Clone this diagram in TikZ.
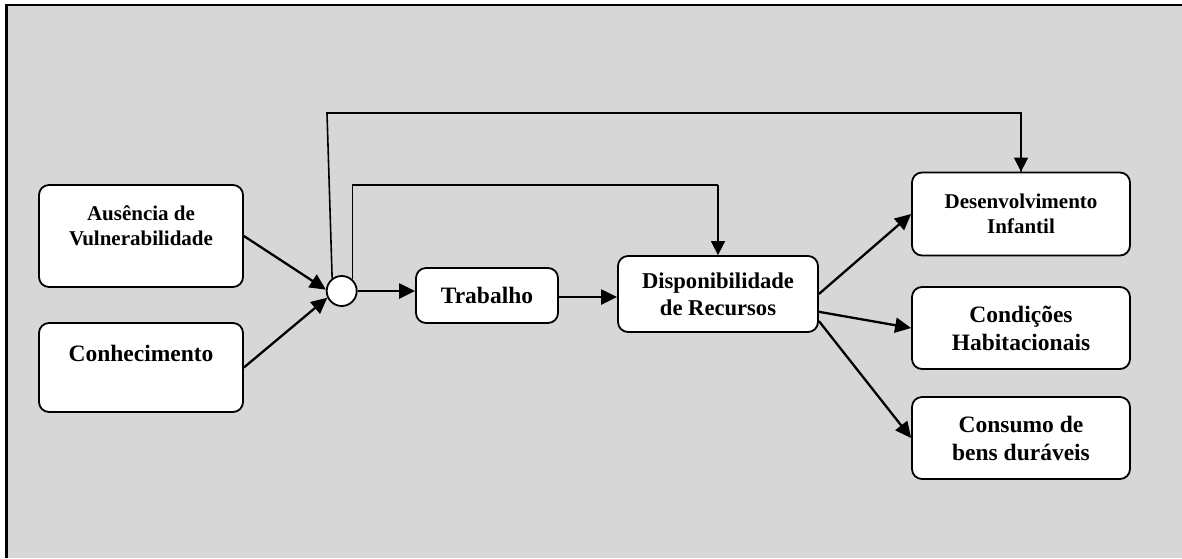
\documentclass[tikz,border=0pt]{standalone}
\usepackage{fontspec}
\setmainfont{Liberation Serif}
\usetikzlibrary{arrows.meta}
\definecolor{bggray}{RGB}{215,215,215}
\tikzset{
  box/.style={draw=black, fill=white, rounded corners=10pt, line width=1.8pt, inner sep=0pt, align=center, font=\bfseries},
  fsA/.style={font=\bfseries\fontsize{21}{25}\selectfont},
  fsB/.style={font=\bfseries\fontsize{23.5}{28}\selectfont},
  fsC/.style={font=\bfseries\fontsize{22.6}{27}\selectfont},
  arr/.style={line width=2.3pt, -{Triangle[length=16pt,width=15pt]}},
  fb/.style={line width=1.6pt},
  fbarr/.style={line width=1.6pt, -{Triangle[length=14pt,width=14pt]}}
}
\begin{document}
\begin{tikzpicture}[x=1pt,y=-1pt]
\useasboundingbox (0,0) rectangle (1182,558);
\fill[white] (0,0) rectangle (1182,558);
\fill[bggray] (6.5,5) rectangle (1182,558);
\draw[line width=2.4pt] (6.5,558) -- (6.5,5) -- (1182,5);

% nodes
\node[box, minimum width=204pt, minimum height=102pt] (aus) at (141,236) {};
\node[fsA, align=center, inner sep=0pt] (austxt) at (141,226) {Ausência de\\Vulnerabilidade};
\node[box, minimum width=204pt, minimum height=89pt] (con) at (141,367.5) {};
\node[fsB, inner sep=0pt] (context) at (141,353) {Conhecimento};
\node[draw=black, fill=white, circle, line width=1.8pt, minimum size=30pt, inner sep=0pt] (c) at (341.7,291) {};
\node[box, fsB, minimum width=142pt, minimum height=55pt] (trab) at (487,295.5) {Trabalho};
\node[box, fsC, minimum width=200pt, minimum height=76pt] (disp) at (718,294) {Disponibilidade\\de Recursos};
\node[box, fsA, minimum width=218pt, minimum height=83pt] (des) at (1021,214) {Desenvolvimento\\Infantil};
\node[box, fsB, minimum width=218pt, minimum height=82pt] (cond) at (1021,328) {Condições\\Habitacionais};
\node[box, fsB, minimum width=218pt, minimum height=82pt] (cons) at (1021,438) {Consumo de\\bens duráveis};

% feedback paths
\coordinate (k1) at (718,185);
\coordinate (k2) at (327,113);
\draw[fb] (c.48) |- (k1);
\draw[fbarr] (k1) -- (disp.north);
\draw[fb] (c.127) -- (k2) -| (des.north);
\draw[fbarr] (des.north |- k2) -- (des.north);

% arrows
\draw[arr] (aus.east) -- (c.175);
\draw[arr] (con.east) -- (c.205);
\draw[arr] (c.east) -- (c.east -| trab.west);
\draw[arr] ([yshift=-1.5pt]trab.east) -- ([yshift=-1.5pt]trab.east -| disp.west);
\draw[arr] (disp.east) -- (des.west);
\draw[arr] (disp.-10) -- (cond.west);
\draw[arr] (disp.-15) -- (cons.west);
\end{tikzpicture}
\end{document}
